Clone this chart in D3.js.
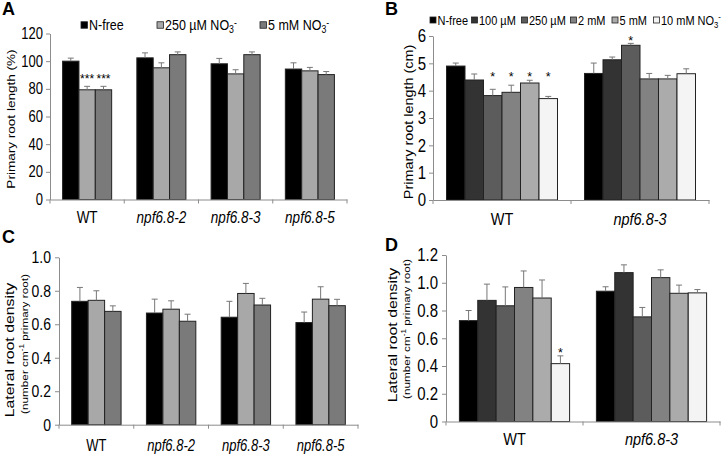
<!DOCTYPE html>
<html><head><meta charset="utf-8">
<script src="https://cdn.jsdelivr.net/npm/d3@7"></script>
<style>body{margin:0;background:#fff}svg{display:block;font-family:"Liberation Sans",Arial,sans-serif}</style>
</head><body>
<script>
// ---------- DATA ----------
const groupsAC = ["WT","npf6.8-2","npf6.8-3","npf6.8-5"];
const seriesAC = ["N-free","250 µM NO3-","5 mM NO3-"];
const aMeans = [[100,79.3,79.3],[102.4,95.2,104.7],[98.1,90.8,104.7],[94.3,93,90.3]];
const aErrs  = [[2.2,2.5,2.5],[3.6,3.6,2],[3.9,3,2],[4.5,2.5,2.2]];
const aTicks = [0,20,40,60,80,100,120];
const aStars = [{g:0,s:1,t:"***"},{g:0,s:2,t:"***"}];

const groupsBD = ["WT","npf6.8-3"];
const seriesBD = ["N-free","100 µM","250 µM","2 mM","5 mM","10 mM NO3-"];
const bMeans = [[4.9,4.39,3.82,3.94,4.28,3.71],[4.63,5.13,5.66,4.43,4.43,4.62]];
const bErrs  = [[0.11,0.22,0.23,0.26,0.1,0.08],[0.38,0.1,0.07,0.2,0.13,0.18]];
const bTicks = [0,1,2,3,4,5,6];
const bStars = [{g:0,s:2,t:"*"},{g:0,s:3,t:"*"},{g:0,s:4,t:"*"},{g:0,s:5,t:"*"},{g:1,s:2,t:"*"}];

const cMeans = [[0.737,0.743,0.677],[0.667,0.69,0.618],[0.642,0.784,0.715],[0.61,0.75,0.711]];
const cErrs  = [[0.083,0.057,0.033],[0.083,0.05,0.042],[0.095,0.06,0.04],[0.063,0.074,0.038]];
const cTicks = [0,0.2,0.4,0.6,0.8,1.0];

const dMeans = [[0.727,0.873,0.834,0.966,0.89,0.417],[0.939,1.073,0.754,1.037,0.924,0.927]];
const dErrs  = [[0.073,0.117,0.136,0.119,0.13,0.056],[0.032,0.056,0.068,0.056,0.059,0.024]];
const dTicks = [0,0.2,0.4,0.6,0.8,1.0,1.2];
const dStars = [{g:0,s:5,t:"*"}];

const colorsAC = ["#000000","#a8a8a8","#7a7a7a"];
const colorsBD = ["#000000","#333333","#5c5c5c","#828282","#ababab","#f4f4f4"];

// ---------- DRAW ----------
const svg = d3.select("body").append("svg").attr("width",722).attr("height",456);
const FONT = '"Liberation Sans",Arial,sans-serif';
const K = 1.2; // vertical stretch of the original figure's lettering

function stretch(sel){
  sel.each(function(){
    const t = d3.select(this);
    const y = +t.attr("y") || 0;
    t.attr("y", y / K).attr("transform", `scale(1,${K})`);
  });
}

function richLabel(sel, label){
  if (label.endsWith("NO3-")) {
    sel.append("tspan").text(label.slice(0,-2));
    sel.append("tspan").attr("dy",2.5).attr("font-size","0.7em").text("3");
    sel.append("tspan").attr("dy",-6.5).attr("font-size","0.7em").text("-");
  } else sel.text(label);
}

function drawPanel(o){
  const g = svg.append("g");
  const x0 = d3.scaleBand().domain(o.groups).range([o.left,o.right]).padding(0);
  const x1 = d3.scaleBand().domain(d3.range(o.series.length)).range([0,x0.bandwidth()])
    .paddingInner(0).paddingOuter(o.outer);
  const y = d3.scaleLinear().domain([0,o.yMax]).range([o.bottom,o.top]);

  const rows = [];
  o.groups.forEach((gr,gi)=>o.means[gi].forEach((v,si)=>rows.push({gr,gi,si,v,e:o.errs[gi][si]})));

  // y axis
  const ya = d3.axisLeft(y).tickValues(o.ticks).tickFormat(o.fmt).tickSize(4).tickSizeOuter(0).tickPadding(o.tickPad);
  const yg = g.append("g").attr("transform",`translate(${o.left},0)`).call(ya);
  yg.select(".domain").attr("stroke","#8c8c8c");
  yg.selectAll(".tick line").attr("stroke","#8c8c8c");
  yg.selectAll(".tick text").attr("font-family",FONT).attr("font-size",o.tickFont).attr("fill","#000").call(stretch);

  // bars
  g.selectAll("rect.bar").data(rows).join("rect").attr("class","bar")
    .attr("x",d=>x0(d.gr)+x1(d.si)).attr("width",x1.bandwidth())
    .attr("y",d=>y(d.v)).attr("height",d=>y(0)-y(d.v))
    .attr("fill",d=>o.colors[d.si]).attr("stroke","#222").attr("stroke-width",1);

  // error bars
  const cx = d=>x0(d.gr)+x1(d.si)+x1.bandwidth()/2;
  g.selectAll("line.err").data(rows).join("line").attr("class","err")
    .attr("x1",cx).attr("x2",cx).attr("y1",d=>y(d.v)).attr("y2",d=>y(d.v+d.e))
    .attr("stroke","#777").attr("stroke-width",1);
  g.selectAll("line.cap").data(rows).join("line").attr("class","cap")
    .attr("x1",d=>cx(d)-3).attr("x2",d=>cx(d)+3).attr("y1",d=>y(d.v+d.e)).attr("y2",d=>y(d.v+d.e))
    .attr("stroke","#777").attr("stroke-width",1);

  // x axis
  const xa = d3.axisBottom(x0).tickSize(0).tickPadding(o.catPad);
  const xg = g.append("g").attr("transform",`translate(0,${o.bottom})`).call(xa);
  xg.select(".domain").attr("stroke","#8c8c8c");
  xg.selectAll(".tick text").attr("font-family",FONT).attr("font-size",o.catFont).attr("fill","#000")
    .attr("font-style",d=>d==="WT"?"normal":"italic").call(stretch);
  const bounds = o.groups.map(gr=>x0(gr)).concat([o.right]);
  g.selectAll("line.xt").data(bounds).join("line").attr("class","xt")
    .attr("x1",d=>d).attr("x2",d=>d).attr("y1",o.bottom).attr("y2",o.bottom+4).attr("stroke","#8c8c8c");

  // significance stars: placed above the highest error bar among starred bars of a group
  if (o.stars){
    o.stars.forEach(st=>{
      const grpStars = o.stars.filter(s=>s.g===st.g);
      const top = d3.max(grpStars,s=>o.means[s.g][s.s]+o.errs[s.g][s.s]);
      g.append("text").attr("x",x0(o.groups[st.g])+x1(st.s)+x1.bandwidth()/2)
        .attr("y",y(top)-o.starGap+0.57*o.starFont)
        .attr("text-anchor","middle").attr("font-family",FONT).attr("font-size",o.starFont)
        .attr("fill","#000").text(st.t);
    });
  }

  // panel letter
  svg.append("text").attr("x",o.letterX).attr("y",o.letterY).attr("font-family",FONT)
    .attr("font-size",18).attr("font-weight","bold").text(o.letter);

  // legend
  if (o.legend){
    o.series.forEach((s,i)=>{
      const lx = o.legend.xs[i], ly = o.legend.y;
      svg.append("rect").attr("x",lx).attr("y",ly-o.legend.sq/2).attr("width",o.legend.sq).attr("height",o.legend.sq)
        .attr("fill",o.colors[i]).attr("stroke","#222").attr("stroke-width",0.8);
      const t = svg.append("text").attr("x",lx+o.legend.sq+1.5).attr("y",ly+K*0.358*o.legend.font)
        .attr("font-family",FONT).attr("font-size",o.legend.font);
      richLabel(t,s);
      t.call(stretch);
    });
  }
}

const fmt1 = d=>d===0?"0":d3.format(".1f")(d);

drawPanel({groups:groupsAC,series:seriesAC,means:aMeans,errs:aErrs,ticks:aTicks,colors:colorsAC,
  left:50,right:347,bottom:199.5,top:33.5,yMax:120,outer:0.77,fmt:d3.format("d"),
  tickFont:13,tickPad:3,catFont:13.5,catPad:12,stars:aStars,starGap:10,starFont:12,
  letter:"A",letterX:2,letterY:15,
  legend:{xs:[81,157,260],y:25,sq:6.5,font:12.5}});

drawPanel({groups:groupsBD,series:seriesBD,means:bMeans,errs:bErrs,ticks:bTicks,colors:colorsBD,
  left:433,right:709,bottom:200,top:36,yMax:6,outer:0.73,fmt:d3.format("d"),
  tickFont:15,tickPad:3,catFont:14.5,catPad:13,stars:bStars,starGap:6,starFont:12.5,
  letter:"B",letterX:385,letterY:15,
  legend:{xs:[430,471.5,521.5,570.5,612,653.5],y:20,sq:6,font:11}});

drawPanel({groups:groupsAC,series:seriesAC,means:cMeans,errs:cErrs,ticks:cTicks,colors:colorsAC,
  left:59,right:358,bottom:424.7,top:257.3,yMax:1.0,outer:0.77,fmt:fmt1,
  tickFont:14,tickPad:4,catFont:13,catPad:15,
  letter:"C",letterX:2,letterY:243});

drawPanel({groups:groupsBD,series:seriesBD,means:dMeans,errs:dErrs,ticks:dTicks,colors:colorsBD,
  left:446,right:720,bottom:421.5,top:255,yMax:1.2,outer:0.73,fmt:fmt1,
  tickFont:15,tickPad:4,catFont:14.5,catPad:11.5,stars:dStars,starGap:6,starFont:12.5,
  letter:"D",letterX:385,letterY:251});

// y-axis titles (rotated; stretched along their length like the original)
function yTitle(x,y,size){
  return svg.append("text").attr("transform",`translate(${x},${y}) rotate(-90) scale(${K},1)`)
    .attr("text-anchor","middle").attr("font-family",FONT).attr("font-size",size);
}
yTitle(15,119,11.3).text("Primary root length (%)");
yTitle(413,122,12).text("Primary root length (cm)");
yTitle(14,350,13.2).text("Lateral root density");
yTitle(397,335,13.2).text("Lateral root density");
function densSub(x,y){
  const t = yTitle(x,y,9.8);
  t.append("tspan").text("(number cm");
  t.append("tspan").attr("dy",-4).attr("font-size","0.7em").text("-1");
  t.append("tspan").attr("dy",4).text(" primary root)");
}
densSub(28,344);
densSub(410,329);
</script>
</body></html>
